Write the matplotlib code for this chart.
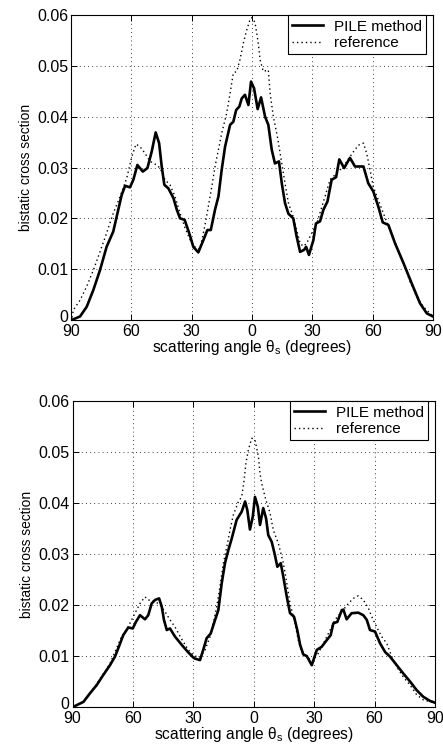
import matplotlib
matplotlib.use('Agg')
import matplotlib.pyplot as plt
import matplotlib.transforms as mtransforms

plt.rcParams['font.family'] = ['Liberation Sans', 'DejaVu Sans']
plt.rcParams['mathtext.fontset'] = 'custom'
plt.rcParams['mathtext.rm'] = 'Liberation Sans'
plt.rcParams['mathtext.it'] = 'Liberation Sans'

# upper panel - PILE method (solid) and reference (dotted)
top_pile_x = [-89.7, -85.5, -82.2, -78.9, -75.6, -72.3, -69.0, -66.5, -64.8, -63.1,
              -60.7, -59.0, -57.0, -54.3, -52.0, -49.9, -47.9, -46.2, -44.9, -43.6,
              -41.6, -39.1, -37.4, -35.8, -33.5, -31.0, -29.2, -26.7, -24.2, -22.2,
              -20.5, -18.4, -16.7, -15.1, -13.4, -10.9, -9.3, -7.9, -6.3, -5.1,
              -3.5, -1.8, -0.5, 1.0, 2.8, 4.5, 6.5, 8.1, 9.8, 11.4,
              13.4, 14.8, 16.4, 18.1, 20.5, 22.2, 23.9, 25.9, 26.9, 28.3,
              30.5, 31.8, 33.8, 35.5, 37.5, 39.6, 41.8, 43.4, 45.8, 48.7,
              51.2, 55.4, 57.8, 60.3, 62.8, 65.0, 67.8, 71.1, 75.3, 79.4,
              83.5, 86.9, 89.9]
top_pile_y = [0.0, 0.0007, 0.0026, 0.0059, 0.0098, 0.0144, 0.0174, 0.0217, 0.0246, 0.0264,
              0.0261, 0.0276, 0.0305, 0.0292, 0.0299, 0.0331, 0.0369, 0.0348, 0.0302, 0.0266,
              0.0259, 0.0240, 0.0217, 0.0200, 0.0197, 0.0168, 0.0144, 0.0133, 0.0157, 0.0177,
              0.0177, 0.0217, 0.0243, 0.0295, 0.0341, 0.0384, 0.0390, 0.0413, 0.0420, 0.0436,
              0.0443, 0.0423, 0.0469, 0.0456, 0.0415, 0.0438, 0.0400, 0.0384, 0.0335, 0.0308,
              0.0312, 0.0269, 0.0230, 0.0209, 0.0200, 0.0164, 0.0134, 0.0138, 0.0144, 0.0128,
              0.0157, 0.0190, 0.0194, 0.0217, 0.0233, 0.0276, 0.0281, 0.0316, 0.0299, 0.0319,
              0.0302, 0.0302, 0.0269, 0.0253, 0.0223, 0.0192, 0.0187, 0.0151, 0.0112, 0.0072,
              0.0033, 0.0013, 0.0007]

top_ref_x = [-89.5, -88.8, -85.5, -82.2, -78.9, -75.6, -72.3, -69.0, -65.6, -62.3,
             -59.8, -57.7, -55.7, -53.2, -50.7, -48.6, -45.7, -43.3, -40.8, -38.3,
             -35.8, -33.3, -30.5, -28.0, -26.0, -24.5, -23.0, -20.0, -18.4, -16.7,
             -15.1, -12.6, -10.9, -9.3, -7.6, -6.0, -4.3, -2.6, -1.0, 0.0,
             1.5, 3.1, 4.0, 5.6, 8.1, 9.0, 10.6, 12.6, 14.8, 16.4,
             18.1, 20.5, 22.2, 23.9, 25.5, 27.2, 29.7, 32.2, 36.3, 38.8,
             42.1, 45.4, 50.4, 52.9, 55.4, 57.0, 58.7, 60.3, 62.8, 65.3,
             68.6, 72.0, 75.3, 78.6, 81.9, 85.2, 88.5, 89.9]
top_ref_y = [0.0005, 0.0020, 0.0039, 0.0066, 0.0098, 0.0134, 0.0171, 0.0210, 0.0243, 0.0279,
             0.0321, 0.0346, 0.0341, 0.0328, 0.0312, 0.0308, 0.0299, 0.0276, 0.0266, 0.0243,
             0.0210, 0.0181, 0.0155, 0.0142, 0.0140, 0.0165, 0.0195, 0.0262, 0.0302, 0.0335,
             0.0367, 0.0407, 0.0446, 0.0486, 0.0489, 0.0512, 0.0545, 0.0571, 0.0591, 0.0595,
             0.0585, 0.0545, 0.0512, 0.0489, 0.0492, 0.0446, 0.0400, 0.0361, 0.0308, 0.0269,
             0.0230, 0.0203, 0.0177, 0.0151, 0.0145, 0.0151, 0.0171, 0.0190, 0.0243, 0.0276,
             0.0289, 0.0302, 0.0331, 0.0344, 0.0348, 0.0328, 0.0295, 0.0262, 0.0236, 0.0210,
             0.0177, 0.0144, 0.0112, 0.0075, 0.0046, 0.0026, 0.0013, 0.0008]

# lower panel
bot_pile_x = [-89.5, -88.8, -84.6, -81.3, -78.0, -74.7, -71.4, -68.9, -67.3, -64.8,
              -62.3, -60.1, -58.5, -56.5, -54.0, -52.4, -50.7, -49.0, -47.0, -45.7,
              -44.6, -43.2, -41.6, -39.1, -35.8, -32.5, -30.0, -29.2, -26.7, -25.1,
              -23.4, -21.4, -19.2, -17.6, -15.9, -14.3, -12.6, -10.9, -8.5, -6.0,
              -4.3, -3.2, -1.9, -0.5, 0.6, 2.0, 3.1, 4.7, 6.1, 7.2,
              8.9, 10.5, 11.7, 13.4, 14.7, 16.4, 18.0, 20.0, 21.6, 23.0,
              24.6, 26.3, 28.8, 31.3, 33.7, 36.2, 38.2, 39.5, 41.5, 43.7,
              44.5, 46.1, 48.6, 51.9, 54.4, 56.1, 57.7, 60.2, 62.7, 65.2,
              67.6, 71.0, 74.2, 77.6, 80.9, 84.2, 87.5, 89.6]
bot_pile_y = [0.0, 0.0002, 0.0010, 0.0027, 0.0043, 0.0063, 0.0082, 0.0099, 0.0115, 0.0141,
              0.0156, 0.0154, 0.0167, 0.0180, 0.0172, 0.0180, 0.0203, 0.0210, 0.0213, 0.0197,
              0.0171, 0.0151, 0.0154, 0.0138, 0.0122, 0.0107, 0.0097, 0.0095, 0.0092, 0.0112,
              0.0135, 0.0144, 0.0171, 0.0190, 0.0243, 0.0282, 0.0308, 0.0331, 0.0367, 0.0383,
              0.0403, 0.0386, 0.0348, 0.0373, 0.0412, 0.0393, 0.0357, 0.0390, 0.0370, 0.0337,
              0.0324, 0.0298, 0.0275, 0.0282, 0.0255, 0.0216, 0.0184, 0.0177, 0.0151, 0.0122,
              0.0103, 0.0100, 0.0082, 0.0112, 0.0118, 0.0131, 0.0141, 0.0164, 0.0167, 0.0190,
              0.0191, 0.0172, 0.0184, 0.0185, 0.0180, 0.0171, 0.0151, 0.0148, 0.0125, 0.0108,
              0.0099, 0.0082, 0.0066, 0.0050, 0.0033, 0.0020, 0.0012, 0.0009]

bot_ref_x = [-89.5, -84.6, -78.0, -71.4, -66.0, -62.3, -58.2, -56.5, -54.0, -52.4,
             -49.0, -46.5, -44.1, -41.6, -39.1, -36.1, -32.5, -29.5, -26.7, -24.2,
             -21.7, -20.1, -18.4, -16.8, -15.1, -13.4, -11.8, -10.2, -7.6, -6.0,
             -4.8, -3.9, -2.7, -1.0, 0.6, 2.3, 3.1, 3.9, 5.6, 8.1,
             9.7, 12.2, 14.7, 16.4, 18.0, 20.5, 22.1, 23.8, 26.2, 29.0,
             32.0, 35.4, 37.9, 40.3, 43.7, 47.0, 49.4, 51.9, 54.4, 56.9,
             58.6, 61.0, 63.5, 66.0, 68.5, 71.0, 74.2, 77.6, 80.9, 84.2,
             89.0]
bot_ref_y = [0.0, 0.0011, 0.0045, 0.0085, 0.0135, 0.0158, 0.0190, 0.0203, 0.0216, 0.0210,
             0.0207, 0.0200, 0.0187, 0.0171, 0.0157, 0.0135, 0.0112, 0.0100, 0.0098, 0.0112,
             0.0138, 0.0164, 0.0197, 0.0236, 0.0282, 0.0314, 0.0347, 0.0376, 0.0403, 0.0412,
             0.0445, 0.0478, 0.0504, 0.0527, 0.0524, 0.0491, 0.0458, 0.0439, 0.0412, 0.0380,
             0.0347, 0.0321, 0.0282, 0.0243, 0.0203, 0.0164, 0.0131, 0.0108, 0.0099, 0.0090,
             0.0105, 0.0131, 0.0151, 0.0171, 0.0187, 0.0203, 0.0213, 0.0218, 0.0210, 0.0194,
             0.0177, 0.0157, 0.0138, 0.0125, 0.0099, 0.0079, 0.0059, 0.0043, 0.0024, 0.0014,
             0.0009]

x_ticks = [-90, -60, -30, 0, 30, 60, 90]
x_tick_labels = ['90', '60', '30', '0', '30', '60', '90']
y_ticks = [0, 0.01, 0.02, 0.03, 0.04, 0.05, 0.06]
y_tick_labels = ['0', '0.01', '0.02', '0.03', '0.04', '0.05', '0.06']


def draw_panel(fig, ax, pile_x, pile_y, ref_x, ref_y):
    ax.plot(pile_x, pile_y, color='black', linewidth=1.9, label='PILE method')
    ax.plot(ref_x, ref_y, color='black', linewidth=1.0, linestyle=(0, (1, 2.2)), label='reference')
    ax.set_xlim(-90, 90)
    ax.set_ylim(0, 0.06)
    ax.set_xticks(x_ticks)
    ax.set_xticklabels(x_tick_labels)
    ax.set_yticks(y_ticks)
    ax.set_yticklabels(y_tick_labels)
    ax.tick_params(direction='in', length=4, width=0.7, top=True, right=True,
                   labelsize=11.5)
    ax.tick_params(axis='x', pad=3)
    ax.tick_params(axis='y', pad=2)
    # nudge the "0" on the y axis up a little so it does not sit on the "90"
    lab0 = ax.get_yticklabels()[0]
    lab0.set_transform(lab0.get_transform() +
                       mtransforms.ScaledTranslation(0, 3 / 72, fig.dpi_scale_trans))
    ax.grid(True, color='black', linestyle=(0, (1, 4)), linewidth=0.6)
    for s in ax.spines.values():
        s.set_linewidth(0.8)
    ax.set_xlabel(r'scattering angle $\theta_s$ (degrees)', fontsize=11.2, labelpad=-1)
    ax.set_ylabel('bistatic cross section', fontsize=9.9, labelpad=3)
    leg = ax.legend(loc='upper right', bbox_to_anchor=(0.981, 1.0), borderaxespad=0,
                    fancybox=False, edgecolor='black', framealpha=1, fontsize=11,
                    handlelength=2.0, handletextpad=0.7, borderpad=0.3, labelspacing=0.15)
    leg.get_frame().set_linewidth(0.8)


fig = plt.figure(figsize=(4.43, 7.44), dpi=100)
ax1 = fig.add_axes([0.1603, 0.5699, 0.8172, 0.4099])
ax2 = fig.add_axes([0.1637, 0.0497, 0.8183, 0.4113])

draw_panel(fig, ax1, top_pile_x, top_pile_y, top_ref_x, top_ref_y)
draw_panel(fig, ax2, bot_pile_x, bot_pile_y, bot_ref_x, bot_ref_y)

fig.savefig('out.png', dpi=100)
